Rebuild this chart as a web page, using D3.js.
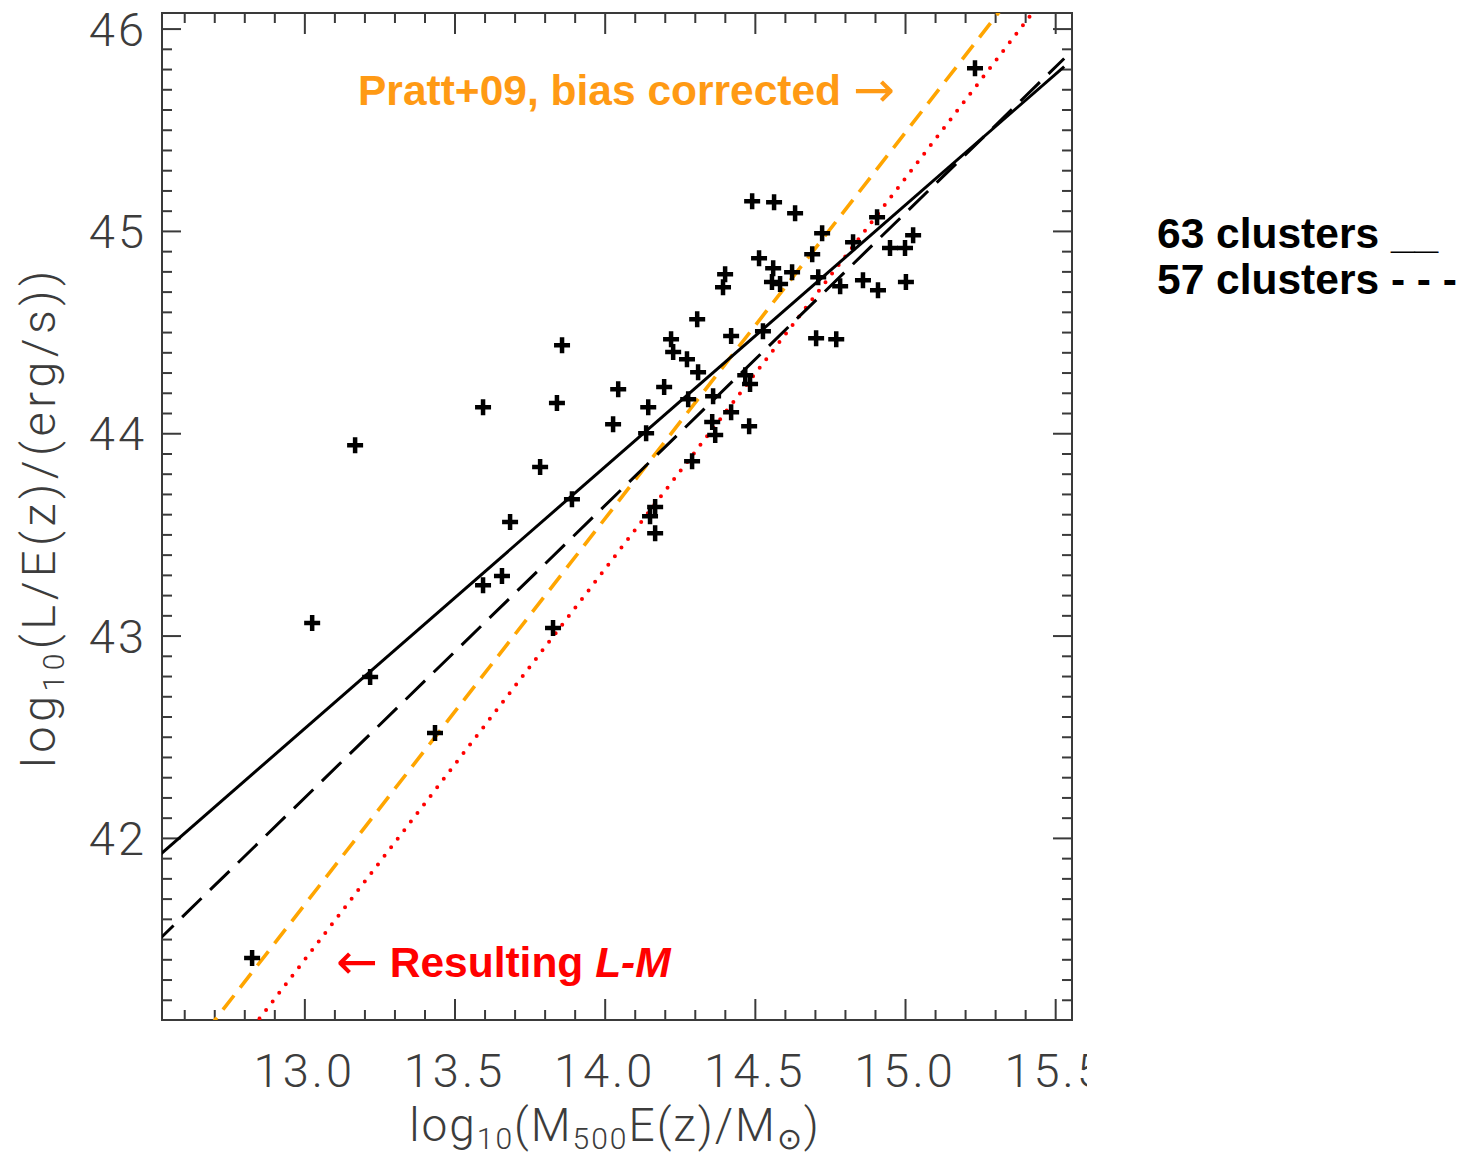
<!DOCTYPE html>
<html>
<head>
<meta charset="utf-8">
<script src="https://cdn.jsdelivr.net/npm/d3@7"></script>
<style>
  html, body { margin: 0; padding: 0; background: #fff; }
  svg { display: block; }
</style>
</head>
<body>
<svg id="chart" width="1460" height="1159"></svg>
<script>
// ---------- data ----------
const massX = [12.826, 13.026, 13.169, 13.219, 13.435, 13.595, 13.595, 13.658, 13.685, 13.785,
  13.828, 13.841, 13.858, 13.891, 14.028, 14.045, 14.138, 14.145, 14.151, 14.168,
  14.168, 14.198, 14.221, 14.228, 14.274, 14.278, 14.291, 14.308, 14.311, 14.358,
  14.361, 14.368, 14.394, 14.401, 14.421, 14.421, 14.468, 14.484, 14.481, 14.491,
  14.514, 14.527, 14.557, 14.561, 14.564, 14.584, 14.624, 14.634, 14.691, 14.704,
  14.711, 14.724, 14.771, 14.784, 14.827, 14.860, 14.907, 14.910, 14.950, 15.000,
  15.003, 15.027, 15.233];
const lumY = [41.407, 43.062, 43.941, 42.795, 42.518, 44.129, 43.249, 43.294, 43.561, 43.833,
  43.037, 44.149, 44.435, 43.674, 44.045, 44.218, 44.000, 44.129, 43.590, 43.635,
  43.506, 44.228, 44.465, 44.401, 44.366, 44.168, 43.862, 44.564, 44.302, 44.055,
  44.183, 43.991, 44.722, 44.786, 44.480, 44.104, 44.287, 44.243, 44.035, 45.147,
  44.865, 44.504, 44.747, 44.816, 45.142, 44.737, 44.796, 45.087, 44.885, 44.470,
  44.771, 44.989, 44.465, 44.727, 44.944, 44.756, 45.068, 44.707, 44.915, 44.915,
  44.747, 44.979, 45.804];

// fitted relations: endpoints [x, y]
const fit63 = [[12.50, 41.892], [15.53, 45.812]];      // solid black
const fit57 = [[12.50, 41.474], [15.53, 45.852]];      // dashed black
const pratt09 = [[12.50, 40.714], [15.60, 46.629]];    // orange dashed
const resultLM = [[12.50, 40.430], [15.60, 46.417]];   // red dotted

const xMajorTicks = [13.0, 13.5, 14.0, 14.5, 15.0, 15.5];
const xTickLabels = ["13.0", "13.5", "14.0", "14.5", "15.0", "15.5"];
const yMajorTicks = [42, 43, 44, 45, 46];
const yTickLabels = ["42", "43", "44", "45", "46"];

// ---------- layout ----------
const svg = d3.select("#chart");
const L = 162, T = 13, W = 910, H = 1007;
const x = d3.scaleLinear().domain([12.526, 15.556]).range([L, L + W]);
const y = d3.scaleLinear().domain([41.10, 46.077]).range([T + H, T]);

const thinFont = "Roboto, 'Open Sans', 'DejaVu Sans', sans-serif";
const boldFont = "'Liberation Sans', Arial, sans-serif";
const axisCol = "#3a3a3a";
const labelCol = "#3c3c3c";

const defs = svg.append("defs");
defs.append("clipPath").attr("id", "plotClip")
  .append("rect").attr("x", L).attr("y", T).attr("width", W).attr("height", H);
defs.append("clipPath").attr("id", "labelClip")
  .append("rect").attr("x", 0).attr("y", 0).attr("width", 1087).attr("height", 1159);

// minor tick values
const xMinor = d3.range(126, 156).map(d => d / 10).filter(v => v >= 12.526 && v <= 15.556 && Math.abs(v * 2 - Math.round(v * 2)) > 1e-6);
const yMinor = d3.range(412, 461).map(d => d / 10).filter(v => v >= 41.10 && v <= 46.077 && Math.abs(v - Math.round(v)) > 1e-6);

function styleAxis(g) {
  g.select(".domain").remove();
  g.selectAll(".tick line").attr("stroke", axisCol).attr("stroke-width", 2);
}

// bottom
svg.append("g").attr("transform", `translate(0,${T + H})`)
  .call(d3.axisBottom(x).tickValues(xMinor).tickSize(-10).tickFormat(""))
  .call(styleAxis);
svg.append("g").attr("transform", `translate(0,${T + H})`)
  .call(d3.axisBottom(x).tickValues(xMajorTicks).tickSize(-21).tickFormat(""))
  .call(styleAxis);
// top
svg.append("g").attr("transform", `translate(0,${T})`)
  .call(d3.axisTop(x).tickValues(xMinor).tickSize(-10).tickFormat(""))
  .call(styleAxis);
svg.append("g").attr("transform", `translate(0,${T})`)
  .call(d3.axisTop(x).tickValues(xMajorTicks).tickSize(-21).tickFormat(""))
  .call(styleAxis);
// left
svg.append("g").attr("transform", `translate(${L},0)`)
  .call(d3.axisLeft(y).tickValues(yMinor).tickSize(-10).tickFormat(""))
  .call(styleAxis);
svg.append("g").attr("transform", `translate(${L},0)`)
  .call(d3.axisLeft(y).tickValues(yMajorTicks).tickSize(-19).tickFormat(""))
  .call(styleAxis);
// right
svg.append("g").attr("transform", `translate(${L + W},0)`)
  .call(d3.axisRight(y).tickValues(yMinor).tickSize(-10).tickFormat(""))
  .call(styleAxis);
svg.append("g").attr("transform", `translate(${L + W},0)`)
  .call(d3.axisRight(y).tickValues(yMajorTicks).tickSize(-19).tickFormat(""))
  .call(styleAxis);

// frame
svg.append("rect").attr("x", L).attr("y", T).attr("width", W).attr("height", H)
  .attr("fill", "none").attr("stroke", axisCol).attr("stroke-width", 2);

// tick labels
svg.append("g").attr("clip-path", "url(#labelClip)")
  .selectAll("text").data(xMajorTicks).join("text")
  .attr("x", d => x(d)).attr("y", 1087)
  .attr("text-anchor", "middle")
  .attr("font-family", thinFont).attr("font-weight", 300)
  .attr("font-size", 47).attr("letter-spacing", 3).attr("fill", labelCol)
  .text((d, i) => xTickLabels[i]);

svg.append("g").selectAll("text").data(yMajorTicks).join("text")
  .attr("x", 147).attr("y", d => y(d) + 17)
  .attr("text-anchor", "end")
  .attr("font-family", thinFont).attr("font-weight", 300)
  .attr("font-size", 47).attr("letter-spacing", 3).attr("fill", labelCol)
  .text((d, i) => yTickLabels[i]);

// axis titles
const xt = svg.append("text")
  .attr("x", 615).attr("y", 1141).attr("text-anchor", "middle")
  .attr("font-family", thinFont).attr("font-weight", 300)
  .attr("font-size", 46).attr("letter-spacing", 2).attr("fill", labelCol);
xt.append("tspan").text("log");
xt.append("tspan").attr("font-size", 30).attr("dy", 8).text("10");
xt.append("tspan").attr("dy", -8).text("(M");
xt.append("tspan").attr("font-size", 30).attr("dy", 8).text("500");
xt.append("tspan").attr("dy", -8).text("E(z)/M");
xt.append("tspan").attr("font-size", 30).attr("dy", 8).text("⊙");
xt.append("tspan").attr("dy", -8).text(")");

const yt = svg.append("text")
  .attr("transform", "translate(55,517) rotate(-90)")
  .attr("text-anchor", "middle")
  .attr("font-family", thinFont).attr("font-weight", 300)
  .attr("font-size", 47).attr("letter-spacing", 4.5).attr("fill", labelCol);
yt.append("tspan").text("log");
yt.append("tspan").attr("font-size", 30).attr("dy", 9).text("10");
yt.append("tspan").attr("dy", -9).text("(L/E(z)/(erg/s))");

// ---------- lines ----------
const plot = svg.append("g").attr("clip-path", "url(#plotClip)");
const lineGen = d3.line().x(d => x(d[0])).y(d => y(d[1]));

plot.append("path").datum(pratt09).attr("d", lineGen)
  .attr("fill", "none").attr("stroke", "#ffa500").attr("stroke-width", 3.6)
  .attr("stroke-dasharray", "18,10");
plot.append("path").datum(resultLM).attr("d", lineGen)
  .attr("fill", "none").attr("stroke", "#ff0000").attr("stroke-width", 4)
  .attr("stroke-linecap", "round").attr("stroke-dasharray", "0,10.8");
plot.append("path").datum(fit57).attr("d", lineGen)
  .attr("fill", "none").attr("stroke", "#000").attr("stroke-width", 3)
  .attr("stroke-dasharray", "27,12");
plot.append("path").datum(fit63).attr("d", lineGen)
  .attr("fill", "none").attr("stroke", "#000").attr("stroke-width", 3);

// ---------- points ----------
const pts = massX.map((m, i) => [m, lumY[i]]);
const arm = 8;
plot.append("g").selectAll("path").data(pts).join("path")
  .attr("d", d => {
    const cx = x(d[0]), cy = y(d[1]);
    return `M${cx - arm},${cy}H${cx + arm}M${cx},${cy - arm}V${cy + arm}`;
  })
  .attr("stroke", "#000").attr("stroke-width", 4.5).attr("fill", "none");

// ---------- annotations ----------
const pr = svg.append("text").attr("x", 358).attr("y", 105)
  .attr("font-family", boldFont).attr("font-weight", "bold")
  .attr("font-size", 42.5).attr("fill", "#ff9a14");
pr.append("tspan").text("Pratt+09, bias corrected ");
pr.append("tspan").attr("font-family", "'DejaVu Sans', sans-serif")
  .attr("font-weight", "normal").attr("font-size", 50).attr("dy", 2).text("→");

const rl = svg.append("text").attr("x", 336).attr("y", 977)
  .attr("font-family", boldFont).attr("font-weight", "bold")
  .attr("font-size", 42.5).attr("fill", "#ff0000");
rl.append("tspan").attr("font-family", "'DejaVu Sans', sans-serif")
  .attr("font-weight", "normal").attr("font-size", 50).attr("dy", 2).text("←");
rl.append("tspan").attr("dy", -2).text(" Resulting ");
rl.append("tspan").attr("font-style", "italic").text("L-M");

svg.append("text").attr("x", 1157).attr("y", 248)
  .attr("font-family", boldFont).attr("font-weight", "bold")
  .attr("font-size", 42.5).attr("fill", "#000")
  .text("63 clusters __");
svg.append("text").attr("x", 1157).attr("y", 294)
  .attr("font-family", boldFont).attr("font-weight", "bold")
  .attr("font-size", 42.5).attr("fill", "#000")
  .text("57 clusters - - -");
</script>
</body>
</html>
